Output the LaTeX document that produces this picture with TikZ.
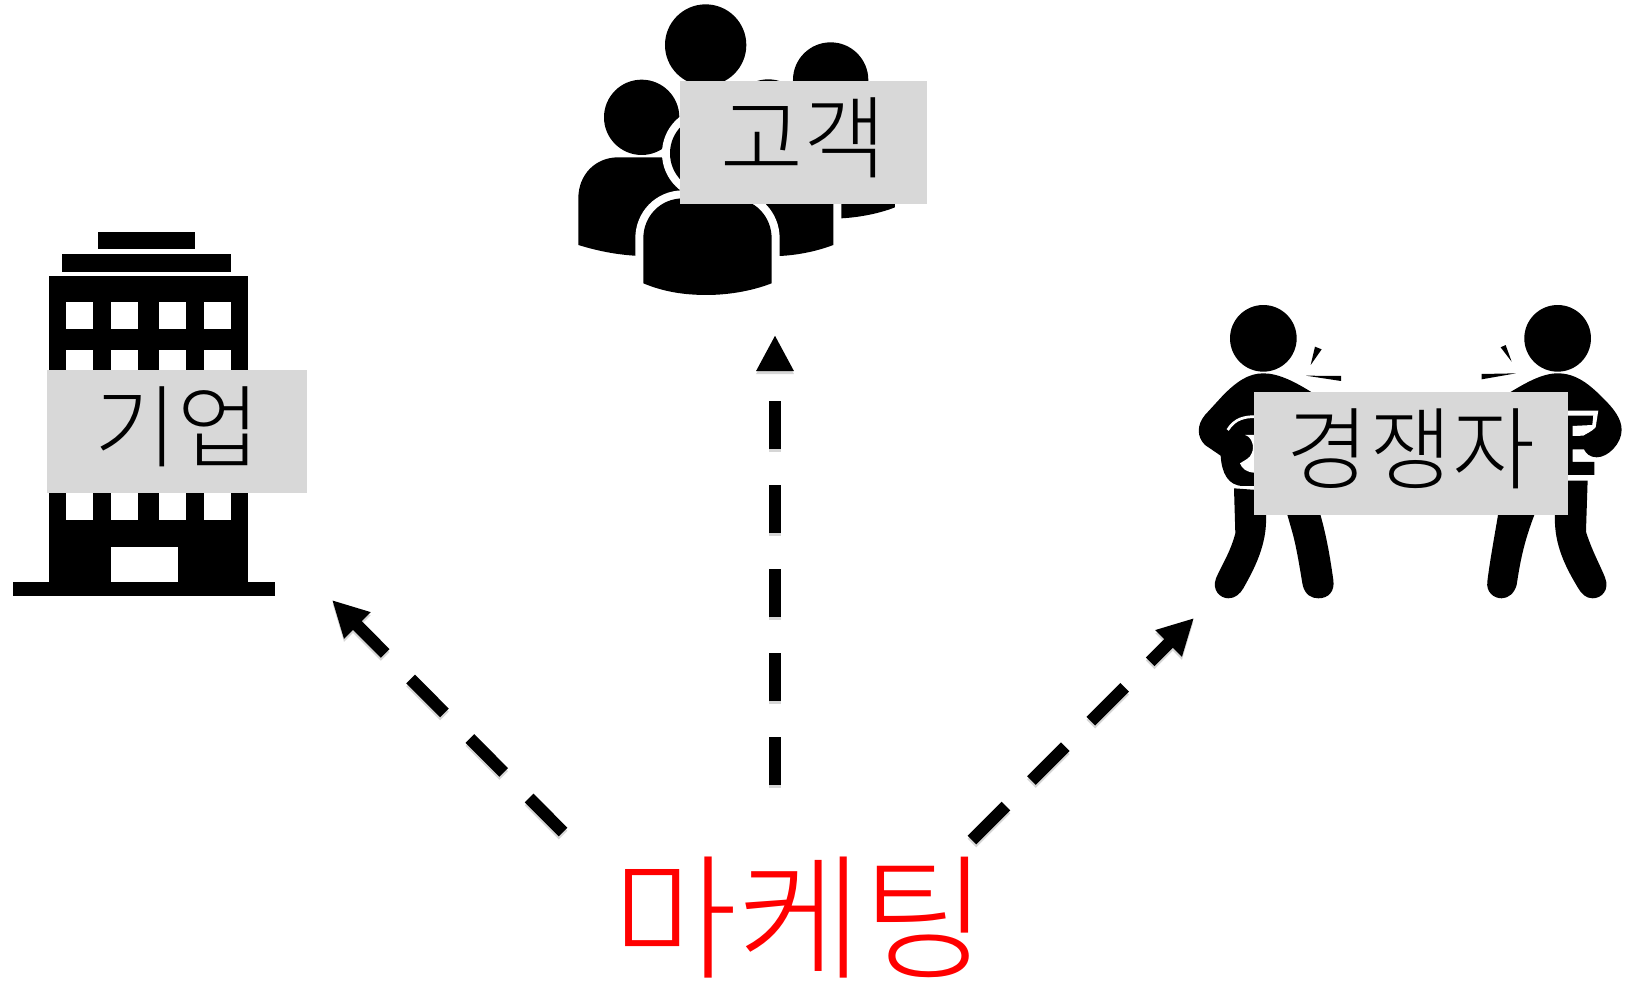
\documentclass[tikz,border=0pt]{standalone}
\usepackage{fontspec}
\usepackage{xcolor}
\usetikzlibrary{arrows.meta}
\newfontfamily\krfont{Noto Sans CJK KR Light}
\definecolor{boxgray}{HTML}{D8D8D8}
\tikzset{
	labelbox/.style = {shape=rectangle, fill=boxgray, inner sep=0pt,
		minimum height=123pt, align=center, text height=78pt, text depth=21pt,
		font=\krfont\fontsize{90}{90}\selectfont},
	redlabel/.style = {shape=rectangle, inner sep=0pt, text=red,
		font=\krfont\fontsize{136}{136}\selectfont},
	ring/.style     = {fill=black, preaction={draw=white, line width=16pt}},
	dasharrow/.style = {line width=12.3pt, dash pattern=on 48pt off 36pt,
		-{Triangle[length=36pt,width=35pt]},
		preaction={draw=black!16, line width=12.3pt, dash pattern=on 48pt off 36pt,
			-{Triangle[length=36pt,width=35pt]},
			transform canvas={yshift=-3pt}}}
}
\begin{document}
\begin{tikzpicture}[x=1pt,y=-1pt]
\useasboundingbox (0,0) rectangle (1640,983);
% building
\fill (98,232) rectangle (195,249);
\fill (62,254) rectangle (231,272);
\fill (49,276) rectangle (248,582);
\fill (13,582) rectangle (275,596);
\foreach \row in {302,350,398,446,493}
	\foreach \col in {66,111,159,204}
		\fill [white] (\col,\row) rectangle +(27,27);
\fill [white] (111,547) rectangle (178,582);
% customers
\begin{scope}[shift={(560,0)},x=0.3333pt,y=-0.3333pt]
\fill (437,135) circle [radius=122];
\fill (812,240) circle [radius=113];
\fill (800,660) -- (845,655) .. controls (900,652) and (960,640) .. (1005,622)
	-- (1005,560) .. controls (1005,500) and (950,460) .. (880,460) -- (800,460) -- cycle;
\fill (625,351) circle [radius=113];
\path [ring] (400,768) -- (660,768) .. controls (720,765) and (775,752) .. (820,735)
	-- (820,590) .. controls (820,525) and (770,472) .. (700,472) -- (400,472) -- cycle;
\fill (245,352) circle [radius=113];
\fill (55,735) .. controls (110,752) and (170,765) .. (240,768) -- (400,768) -- (400,472)
	-- (175,472) .. controls (105,472) and (55,525) .. (55,595) -- cycle;
\path [ring] (445,460) circle [radius=115];
\path [ring] (250,850) -- (250,715) .. controls (250,650) and (300,595) .. (370,595)
	-- (515,595) .. controls (585,595) and (635,650) .. (635,715) -- (635,850)
	.. controls (570,875) and (500,885) .. (440,885) .. controls (370,885) and (310,875) .. (250,850) -- cycle;
\end{scope}
% competitors
\begin{scope}[shift={(1180,290)},x=0.3333pt,y=-0.3333pt]
\fill (250,145) circle [radius=100];
\fill (1133,145) circle [radius=100];
\fill (405,170) -- (425,178) -- (392,225) -- cycle;
\fill (378,257) -- (483,258) -- (483,273) -- cycle;
\fill (962,172) -- (977,165) -- (995,215) -- cycle;
\fill (1008,250) -- (905,252) -- (905,268) -- cycle;
% left man
\fill (250,250) .. controls (205,250) and (170,275) .. (130,315) -- (75,375)
	.. controls (50,405) and (50,440) .. (75,465) -- (122,497)
	.. controls (125,550) and (145,588) .. (190,588) -- (300,588) -- (400,310)
	.. controls (345,275) and (295,250) .. (250,250) -- cycle;
\draw [white, line width=2.7pt] (143,420) .. controls (165,385) and (195,380) .. (225,380);
\fill [white] (195,435) .. controls (215,440) and (225,470) .. (215,490)
	.. controls (210,505) and (195,510) .. (180,520)
	.. controls (185,535) and (200,548) .. (225,548) -- (225,435) -- cycle;
\fill (162,595) -- (166,730) .. controls (150,790) and (125,825) .. (108,865)
	.. controls (95,900) and (120,925) .. (145,925) .. controls (165,925) and (180,912) .. (190,895)
	.. controls (215,850) and (255,780) .. (258,700) -- (258,602) -- cycle;
\fill (318,660) -- (335,720) .. controls (350,770) and (360,840) .. (368,885)
	.. controls (375,915) and (395,925) .. (415,925) .. controls (445,925) and (465,905) .. (460,870)
	.. controls (450,800) and (440,740) .. (420,670) -- cycle;
% right man
\fill (1133,250) .. controls (1190,250) and (1230,285) .. (1270,325)
	.. controls (1300,355) and (1325,385) .. (1325,420) .. controls (1325,460) and (1285,502) .. (1250,502)
	.. controls (1230,502) and (1218,490) .. (1212,478) -- (1178,478) -- (1178,516)
	-- (1243,516) -- (1243,555) -- (1100,555) -- (985,310)
	.. controls (1035,280) and (1085,250) .. (1133,250) -- cycle;
\fill [white] (1164,362) -- (1255,362) -- (1247,412) .. controls (1235,425) and (1220,430) .. (1210,437)
	-- (1178,438) -- (1178,408) -- (1237,405) -- (1240,377) -- (1164,377) -- cycle;
\fill (1150,572) -- (1223,572) -- (1218,725) .. controls (1235,780) and (1260,825) .. (1275,862)
	.. controls (1290,900) and (1265,925) .. (1238,925) .. controls (1218,925) and (1205,912) .. (1195,895)
	.. controls (1165,845) and (1128,780) .. (1125,700) -- (1125,660) -- (1150,660) -- cycle;
\fill (955,670) .. controls (945,730) and (930,810) .. (922,875)
	.. controls (918,905) and (940,925) .. (965,925) .. controls (985,925) and (1003,910) .. (1010,885)
	.. controls (1020,820) and (1030,760) .. (1065,670) -- cycle;
\end{scope}
% labels
\node [labelbox, minimum width=260pt] (firm) at (177,431.5) {기업};
\node [labelbox, minimum width=247pt] (customer) at (803.5,142.5) {고객};
\node [labelbox, minimum width=314pt] (rival) at (1411,453.5) {경쟁자};
\node [redlabel] (marketing) at (800,918) {마케팅};
% arrows
\coordinate (firmTail) at (563,832);
\coordinate (firmTip) at (332,600);
\coordinate (customerTail) at (775,785);
\coordinate (customerTip) at (775,335);
\coordinate (rivalTail) at (972,840);
\coordinate (rivalTip) at (1194,618);
\draw [dasharrow] (firmTail) -- (firmTip);
\draw [dasharrow] (customerTail) -- (customerTip);
\draw [dasharrow] (rivalTail) -- (rivalTip);
\end{tikzpicture}
\end{document}
